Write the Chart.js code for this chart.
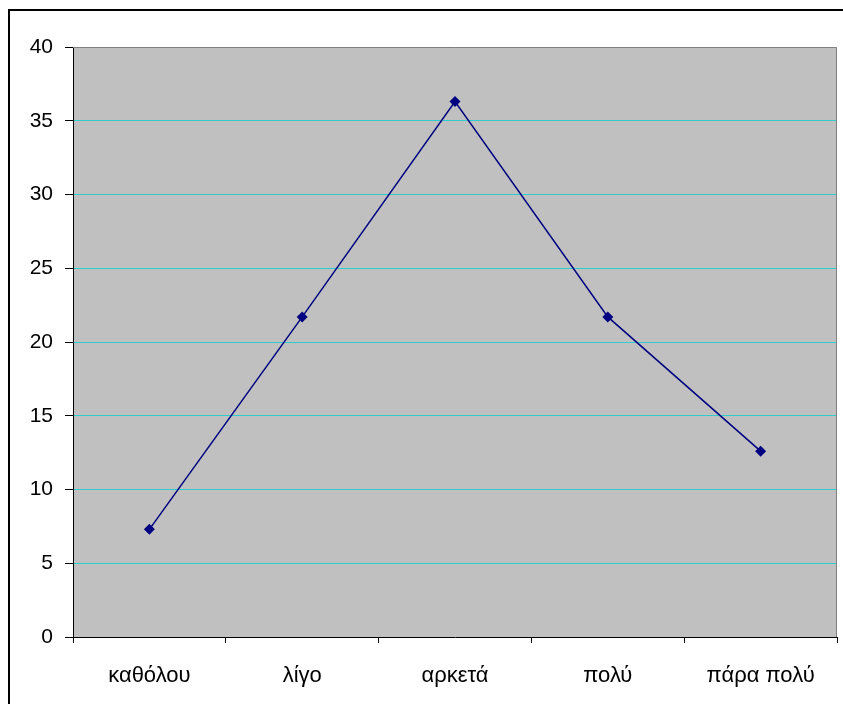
<!DOCTYPE html>
<html>
<head>
<meta charset="utf-8">
<script src="https://cdn.jsdelivr.net/npm/chart.js@4"></script>
<style>
  html, body { margin: 0; padding: 0; background: #ffffff; }
  canvas { display: block; }
</style>
</head>
<body>
<canvas id="chart" width="843" height="704"></canvas>
<script>
// Κατηγορίες και τιμές
const categories = ["καθόλου", "λίγο", "αρκετά", "πολύ", "πάρα πολύ"];
const values = [7.3, 21.7, 36.3, 21.7, 12.6];
const yTicks = [0, 5, 10, 15, 20, 25, 30, 35, 40];

// Γκρι φόντο, οριζόντιες γραμμές, πλαίσιο γραφήματος και εξωτερικό πλαίσιο
const framePlugin = {
  id: "frame",
  beforeDraw(chart) {
    const { ctx, chartArea } = chart;
    ctx.save();
    ctx.fillStyle = "#000000";
    ctx.fillRect(8, 9, 2, chart.height);
    ctx.fillRect(8, 9, chart.width, 2);
    ctx.fillStyle = "#C0C0C0";
    ctx.fillRect(chartArea.left, chartArea.top,
      chartArea.right - chartArea.left, chartArea.bottom - chartArea.top);
    ctx.restore();
  },
  beforeDatasetsDraw(chart) {
    const { ctx, chartArea } = chart;
    const y = chart.scales.y;
    ctx.save();
    // γραμμές πλέγματος
    ctx.fillStyle = "#30CCCC";
    yTicks.slice(1, -1).forEach((v) => {
      const py = Math.round(y.getPixelForValue(v) - 0.5);
      ctx.fillRect(chartArea.left + 1, py, chartArea.right - chartArea.left - 1, 1);
    });
    ctx.strokeStyle = "#808080";
    ctx.lineWidth = 1;
    ctx.beginPath();
    ctx.moveTo(chartArea.left, chartArea.top + 0.5);
    ctx.lineTo(chartArea.right - 0.5, chartArea.top + 0.5);
    ctx.lineTo(chartArea.right - 0.5, chartArea.bottom);
    ctx.stroke();
    ctx.restore();
  },
};

const config = {
  type: "line",
  data: {
    labels: categories,
    datasets: [
      {
        data: values,
        borderColor: "#000080",
        backgroundColor: "#000080",
        borderWidth: 1.5,
        pointStyle: "rectRot",
        pointRadius: 5.5,
        pointBorderWidth: 0,
        tension: 0,
      },
    ],
  },
  options: {
    responsive: false,
    animation: false,
    layout: {
      padding: { left: 0, top: 47, right: 6, bottom: 0 },
    },
    plugins: {
      legend: { display: false },
      tooltip: { enabled: false },
    },
    scales: {
      x: {
        offset: true,
        grid: {
          offset: true,
          drawOnChartArea: false,
          drawTicks: true,
          tickLength: 6,
          tickColor: "#000000",
        },
        border: { color: "#000000", width: 1 },
        ticks: {
          color: "#000000",
          padding: 20,
          font: { family: "Arial, 'Liberation Sans'", size: 22 },
        },
        afterFit(scale) {
          scale.height = 67;
        },
      },
      y: {
        min: 0,
        max: 40,
        afterBuildTicks(scale) {
          scale.ticks = yTicks.map((v) => ({ value: v }));
        },
        grid: {
          drawOnChartArea: false,
          tickLength: 8,
          tickColor: "#000000",
        },
        border: { color: "#000000", width: 1 },
        ticks: {
          color: "#000000",
          padding: 12,
          font: { family: "Arial, 'Liberation Sans'", size: 21 },
        },
        afterFit(scale) {
          scale.width = 73;
        },
      },
    },
  },
  plugins: [framePlugin],
};

const ctx = document.getElementById("chart").getContext("2d");
const myChart = new Chart(ctx, config);
</script>
</body>
</html>
